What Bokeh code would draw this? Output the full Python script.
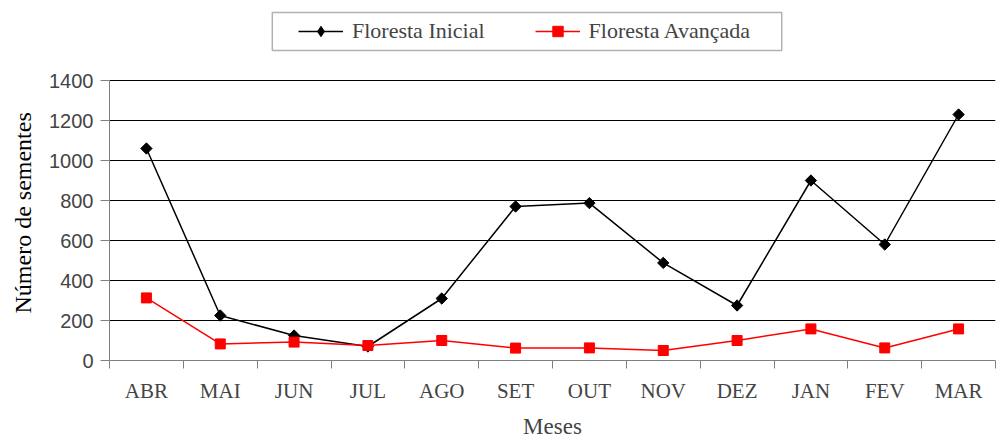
import numpy as np
from bokeh.plotting import figure
from bokeh.models import FixedTicker, Legend, LegendItem, Range1d, BoxAnnotation, Title
from bokeh.embed import file_html
from bokeh.resources import INLINE

months = ["ABR", "MAI", "JUN", "JUL", "AGO", "SET", "OUT", "NOV", "DEZ", "JAN", "FEV", "MAR"]
floresta_inicial = [1060, 225, 125, 70, 310, 770, 787, 488, 275, 900, 580, 1230]
floresta_avancada = [313, 83, 92, 75, 100, 62, 63, 50, 100, 158, 63, 158]
y_ticks = [0, 200, 400, 600, 800, 1000, 1200, 1400]
y_max = 1400

# layout (pixels)
W, H = 998, 442
left_b, right_b = 108, 3
frame_top, data_top, data_bottom = 8, 80, 360
y_end = y_max * (data_bottom - frame_top) / (data_bottom - data_top)
frame_w = W - left_b - right_b
n = len(months)

def px_to_x(px):
    return (px - left_b) / frame_w * n

def py_to_y(py):
    return (data_bottom - py) / (data_bottom - data_top) * y_max

x = [i + 0.5 for i in range(n)]

p = figure(width=W, height=H, output_backend="svg", toolbar_location=None,
           x_range=Range1d(0, n), y_range=Range1d(0, y_end),
           min_border_left=left_b, min_border_right=right_b, min_border_top=frame_top,
           min_border_bottom=H - data_bottom)
p.outline_line_color = None
p.background_fill_color = "white"
p.border_fill_color = "white"

serif = "Liberation Serif"
sans = "Liberation Sans"

# grid
p.xgrid.grid_line_color = None
p.ygrid.ticker = FixedTicker(ticks=y_ticks)
p.ygrid.grid_line_color = "#000000"
p.ygrid.grid_line_width = 1

# x axis
xa = p.xaxis[0]
xa.ticker = FixedTicker(ticks=x, minor_ticks=list(range(n + 1)))
xa.major_label_overrides = {xi: m for xi, m in zip(x, months)}
xa.major_tick_line_color = None
xa.major_tick_out = 8
xa.major_tick_in = 0
xa.minor_tick_out = 8
xa.minor_tick_in = 0
xa.minor_tick_line_color = "#808080"
xa.axis_line_color = "#808080"
xa.major_label_text_font = serif
xa.major_label_text_font_size = "21px"
xa.major_label_standoff = 10
xa.axis_label = "Meses"
xa.axis_label_text_font = serif
xa.axis_label_text_font_size = "23px"
xa.axis_label_text_font_style = "normal"
xa.axis_label_standoff = 8

# y axis
ya = p.yaxis[0]
ya.bounds = (0, y_max)
ya.ticker = FixedTicker(ticks=y_ticks)
ya.minor_tick_line_color = None
ya.major_tick_out = 9
ya.major_tick_in = 0
ya.major_tick_line_color = "#808080"
ya.axis_line_color = "#808080"
ya.major_label_text_font = sans
ya.major_label_text_font_size = "20px"
ya.major_label_standoff = 7

ytitle = Title(text="Número de sementes", align="left", offset=47,
               vertical_align="top",
               text_font=serif, text_font_size="24px", text_font_style="normal",
               text_color="black", standoff=18)
p.add_layout(ytitle, "left")

l1 = p.line(x, floresta_inicial, line_color="black", line_width=1.5)
m1 = p.scatter(x, floresta_inicial, marker="square", angle=np.pi / 4, size=8,
               fill_color="black", line_color="black")
l2 = p.line(x, floresta_avancada, line_color="#ff0000", line_width=1.5)
m2 = p.scatter(x, floresta_avancada, marker="square", size=10,
               fill_color="#ff0000", line_color="#ff0000")
# legend-only diamond glyph (hidden in the plot)
d1 = p.scatter(x, floresta_inicial, marker="diamond", size=12,
               fill_color="black", line_color="black", visible=False)

# legend frame
box = BoxAnnotation(left=px_to_x(271), right=px_to_x(781), top=py_to_y(12), bottom=py_to_y(50),
                    fill_color="white", fill_alpha=1, line_color="black", line_width=1.5)
p.add_layout(box)

legend = Legend(items=[LegendItem(label="Floresta Inicial", renderers=[l1, d1]),
                       LegendItem(label="Floresta Avançada", renderers=[l2, m2])],
                orientation="horizontal", location=(297 - left_b, data_bottom - 44),
                label_text_font=serif, label_text_font_size="22px",
                glyph_width=45, glyph_height=26, label_standoff=9, spacing=50,
                padding=8, margin=0, label_height=22,
                inactive_fill_alpha=0,
                border_line_color=None, background_fill_alpha=0)
p.add_layout(legend, "center")

open("out.html", "w").write(file_html(p, INLINE))
